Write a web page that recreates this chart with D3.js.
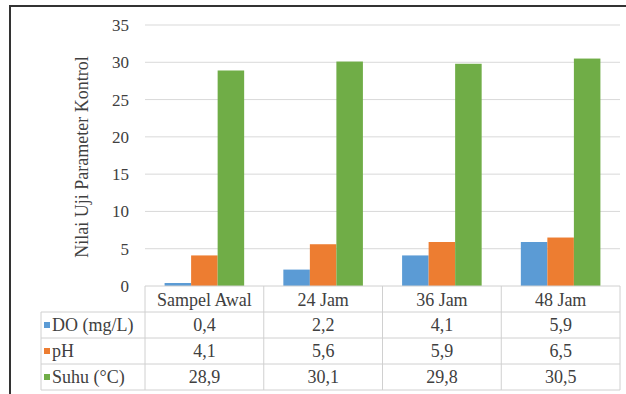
<!DOCTYPE html>
<html>
<head>
<meta charset="utf-8">
<script src="https://cdn.jsdelivr.net/npm/d3@7"></script>
</head>
<body style="margin:0;background:#fff">
<svg id="c" width="626" height="394" style="display:block;font-family:'Liberation Serif',serif">
  <style>text{font-family:'Liberation Serif',serif;fill:#404040}</style>
</svg>
<script>
// Reference data
const categories = ["Sampel Awal", "24 Jam", "36 Jam", "48 Jam"];
const seriesNames = ["DO (mg/L)", "pH", "Suhu (°C)"];
const doValues = [0.4, 2.2, 4.1, 5.9];
const phValues = [4.1, 5.6, 5.9, 6.5];
const suhuValues = [28.9, 30.1, 29.8, 30.5];
const yTicks = [0, 5, 10, 15, 20, 25, 30, 35];
const yTitle = "Nilai Uji Parameter Kontrol";
const colors = ["#5B9BD5", "#ED7D31", "#70AD47"];

const allSeries = [doValues, phValues, suhuValues];
const Wd = 626, Ht = 394;
const L = 145, R = 620, T = 25, B = 286, RH = 26, TL = 41;

const root = d3.select("#c");
root.insert("rect", ":first-child").attr("width", Wd).attr("height", Ht).attr("fill", "#fff");

const xb = d3.scaleBand().domain(categories).range([L, R]);
const yl = d3.scaleLinear().domain([0, 35]).range([B, T]);
const gw = xb.bandwidth() * 0.67;
const xi = d3.scaleBand().domain(d3.range(allSeries.length)).range([0, gw]);
const off = (xb.bandwidth() - gw) / 2;

root.append("g").selectAll("line").data(yTicks.slice(1)).join("line")
  .attr("x1", L).attr("x2", R).attr("y1", d => yl(d)).attr("y2", d => yl(d))
  .attr("stroke", "#D9D9D9");

const ax = root.append("g").attr("transform", `translate(${L - 16},0)`)
  .call(d3.axisLeft(yl).tickValues(yTicks).tickSize(0).tickPadding(0));
ax.select(".domain").remove();
ax.attr("font-family", "Liberation Serif").attr("font-size", 17);
ax.selectAll("text").attr("fill", "#404040");

root.append("text").attr("x", 0).attr("y", 0)
  .attr("transform", `translate(82,157) rotate(-90)`)
  .attr("text-anchor", "middle").attr("dy", "0.35em")
  .attr("font-size", 18).text(yTitle);

allSeries.forEach((vals, si) => {
  root.append("g").attr("fill", colors[si]).selectAll("rect").data(vals).join("rect")
    .attr("x", (d, i) => xb(categories[i]) + off + xi(si))
    .attr("width", xi.bandwidth())
    .attr("y", d => yl(d))
    .attr("height", d => yl(0) - yl(d));
});

const fmt = v => d3.format(".1f")(v).replace(".", ",");
const tb = root.append("g").attr("stroke", "#D0D0D0");
const nR = allSeries.length + 1, TB = B + RH * nR;
tb.append("line").attr("x1", L).attr("x2", R).attr("y1", B).attr("y2", B);
d3.range(1, nR + 1).forEach(r => {
  tb.append("line").attr("x1", TL).attr("x2", R).attr("y1", B + r * RH).attr("y2", B + r * RH);
});
tb.append("line").attr("x1", TL).attr("x2", TL).attr("y1", B + RH).attr("y2", TB);
categories.concat([null]).forEach(c => {
  const xx = c === null ? R : xb(c);
  tb.append("line").attr("x1", xx).attr("x2", xx).attr("y1", B).attr("y2", TB);
});

const tt = root.append("g").attr("font-size", 18);
tt.selectAll("text.h").data(categories).join("text").attr("class", "h")
  .attr("x", d => xb(d) + xb.bandwidth() / 2).attr("y", B + 20)
  .attr("text-anchor", "middle").text(d => d);

allSeries.forEach((vals, si) => {
  const top = B + RH * (si + 1);
  tt.append("rect").attr("x", 44).attr("y", top + RH / 2 - 3).attr("width", 6).attr("height", 6)
    .attr("fill", colors[si]);
  tt.append("text").attr("x", 52).attr("y", top + 19).text(seriesNames[si]);
  tt.append("g").selectAll("text").data(vals).join("text")
    .attr("x", (d, i) => xb(categories[i]) + xb.bandwidth() / 2)
    .attr("y", top + 19).attr("text-anchor", "middle").text(d => fmt(d));
});

root.append("path").attr("d", `M10,${Ht} L10,6 L${Wd},6`)
  .attr("fill", "none").attr("stroke", "#333").attr("stroke-width", 2);
</script>
</body>
</html>
